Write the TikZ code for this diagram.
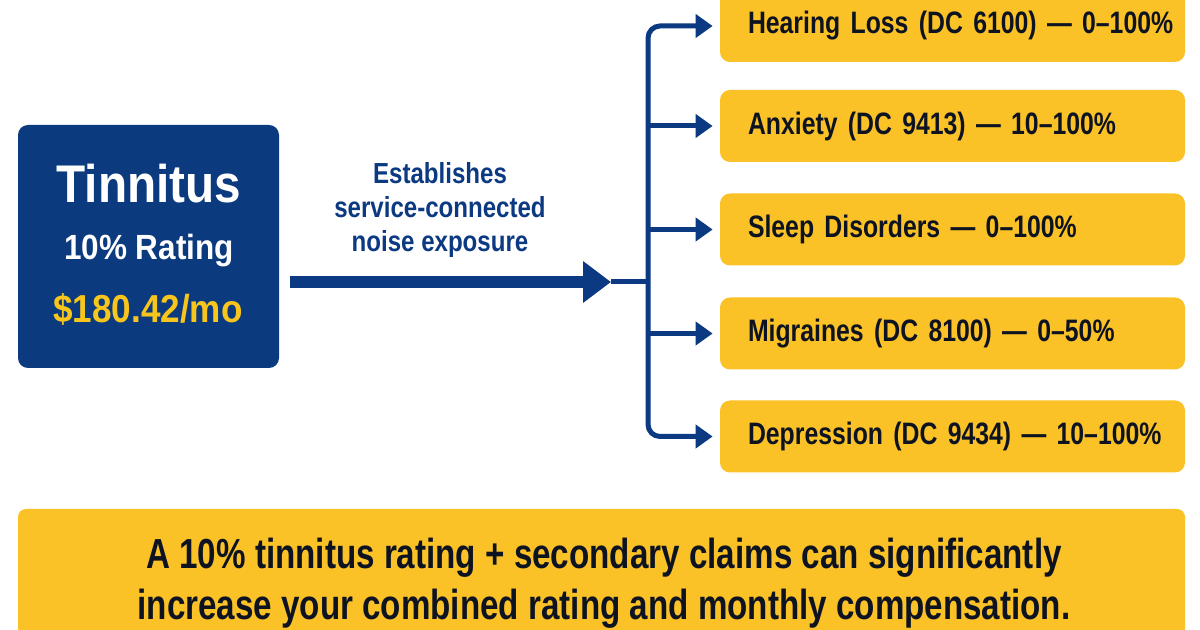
\documentclass[tikz,border=0pt]{standalone}
\usepackage{fontspec}
\setmainfont{Liberation Sans}
\newfontfamily\fnine[FakeStretch=0.9]{Liberation Sans}
\newfontfamily\fcond[FakeStretch=0.83]{Liberation Sans}
\newfontfamily\fylw[FakeStretch=0.8,WordSpace=0.85]{Liberation Sans}
\newfontfamily\fnarrow[FakeStretch=0.79]{Liberation Sans}
\usetikzlibrary{arrows.meta}
\definecolor{navy}{HTML}{0C3A82}
\definecolor{boxblue}{HTML}{0B3A7E}
\definecolor{ygold}{HTML}{FAC227}
\definecolor{ytext}{HTML}{F8C51C}
\definecolor{ink}{HTML}{0E1322}
\tikzset{
  bluebox/.style={fill=boxblue, rounded corners=5pt, minimum width=130.5pt, minimum height=121.5pt, inner sep=0pt},
  ybox/.style={fill=ygold, rounded corners=5pt, text=ink, align=left, text width=204.5pt, inner xsep=14pt, inner ysep=0pt, minimum height=36pt, font=\fylw\bfseries\fontsize{15.5}{18}\selectfont},
  notebox/.style={fill=ygold, rounded corners=4pt, minimum width=583.5pt, minimum height=65.5pt, inner sep=0pt},
  branch/.style={draw=navy, line width=2.5pt, rounded corners=6pt, -{Triangle[length=8.5pt,width=11.5pt]}, shorten >=3.5pt},
}
\begin{document}
\begin{tikzpicture}[x=0.5pt,y=-0.5pt]
\useasboundingbox (0,0) rectangle (1200,630);
\fill[white] (0,0) rectangle (1200,630);

% left box
\node[bluebox] (tin) at (148.5,246.5) {};
\node[anchor=base, text=white, font=\fnine\bfseries\fontsize{26.5}{30}\selectfont, inner sep=0pt] (t1) at (149,203) {Tinnitus};
\node[anchor=base, text=white, font=\fnine\bfseries\fontsize{17.5}{20}\selectfont, inner sep=0pt] (t2) at (149,260) {10\% Rating};
\node[anchor=base, text=ytext, font=\fnine\bfseries\fontsize{19.5}{22}\selectfont, inner sep=0pt] (t3) at (148,323) {\$180.42/mo};

% label
\node[text=navy, align=center, inner sep=0pt, font=\fcond\bfseries\fontsize{14.5}{17}\selectfont] (lab) at (440,210) {Establishes\\service-connected\\noise exposure};

% right boxes
\node[ybox] (b1) at (952.5,26) {\mbox{Hearing Loss (DC 6100) — 0–100\%}};
\node[ybox] (b2) at (952.5,126) {\mbox{Anxiety (DC 9413) — 10–100\%}};
\node[ybox] (b3) at (952.5,229.5) {\mbox{Sleep Disorders — 0–100\%}};
\node[ybox] (b4) at (952.5,333.5) {\mbox{Migraines (DC 8100) — 0–50\%}};
\node[ybox] (b5) at (952.5,436.5) {\mbox{Depression (DC 9434) — 10–100\%}};

% connectors
\coordinate (hub) at (648,282);
\coordinate (tip) at (611,282);
\draw[navy, line width=6pt, -{Triangle[length=14pt,width=20pt]}] ([xshift=5.5pt]tin.east |- hub) -- (tip);
\draw[navy, line width=2.5pt] (tip) -- (hub);
\draw[branch] (hub) |- (b1.west);
\draw[branch] (hub) |- (b5.west);
\draw[branch] (hub |- b2.west) -- (b2.west);
\draw[branch] (hub |- b3.west) -- (b3.west);
\draw[branch] (hub |- b4.west) -- (b4.west);

% bottom note
\node[notebox] (note) at (601.5,574.5) {};
\node[text=ink, align=center, inner sep=0pt, font=\fnarrow\bfseries\fontsize{21}{25.5}\selectfont] (notetext) at (604,583) {A 10\% tinnitus rating + secondary claims can significantly\\increase your combined rating and monthly compensation.};
\end{tikzpicture}
\end{document}
